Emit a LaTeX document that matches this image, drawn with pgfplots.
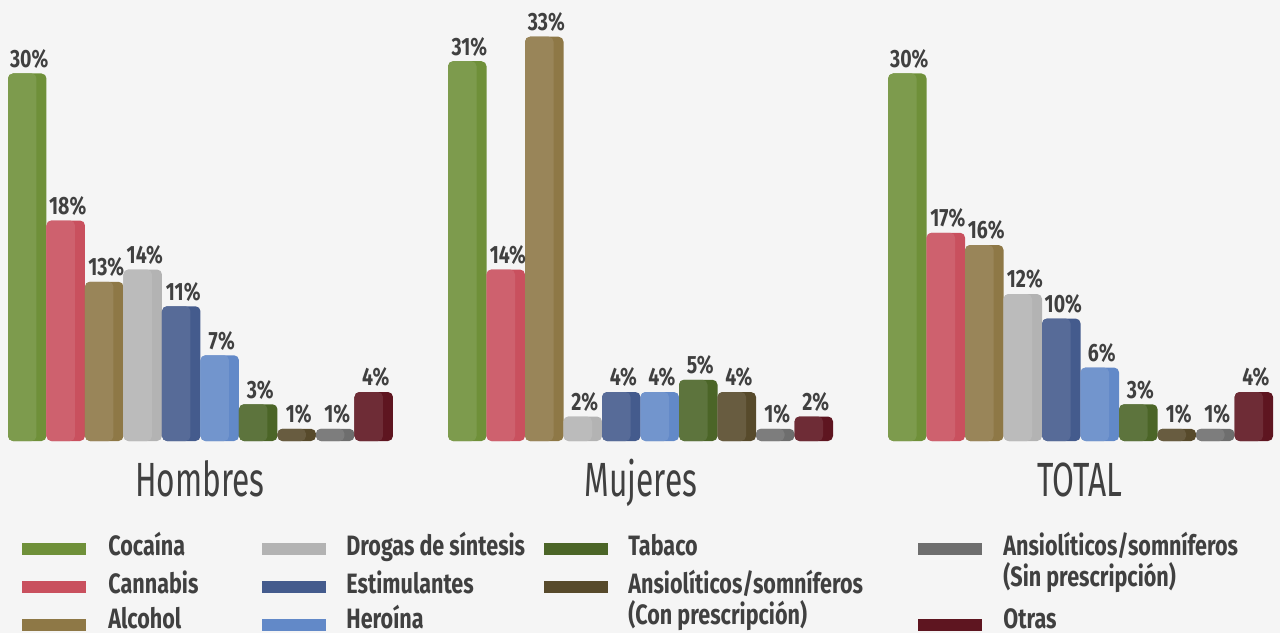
\documentclass[border=0pt]{standalone}
\usepackage{pgfplots}
\pgfplotsset{compat=1.18}
\usepackage{fontspec}
\setmainfont{Fira Sans}
\newfontfamily\vfont{Fira Sans}[FakeStretch=0.78]
\newfontfamily\tfont{Fira Sans}[FakeStretch=0.66]
\newfontfamily\lfont{Fira Sans}[FakeStretch=0.77]
\definecolor{bg}{HTML}{F5F5F5}
\definecolor{txt}{HTML}{404040}
\definecolor{c0}{HTML}{6F9039}
\definecolor{c1}{HTML}{C9505E}
\definecolor{c2}{HTML}{8E7846}
\definecolor{c3}{HTML}{B3B3B3}
\definecolor{c4}{HTML}{445B8D}
\definecolor{c5}{HTML}{6289C8}
\definecolor{c6}{HTML}{4B6527}
\definecolor{c7}{HTML}{574A2B}
\definecolor{c8}{HTML}{6E6E6E}
\definecolor{c9}{HTML}{5E1520}
\begin{document}
\begin{tikzpicture}
\fill[bg] (0,0) rectangle (640pt,316.5pt);
\useasboundingbox (0,0) rectangle (640pt,316.5pt);
\begin{axis}[
  at={(0,0)}, anchor=south west,
  scale only axis, width=640pt, height=316.5pt,
  xmin=-0.2078, xmax=33.04, ymin=-15.67, ymax=36,
  hide axis, clip=false,
  /pgf/number format/assume math mode=true,
  every axis plot/.append style={draw=none},
  main/.style={ybar, bar width=1, bar shift=0pt, rounded corners=2.5pt,
    nodes near coords={\pgfmathprintnumber{\pgfplotspointmeta}\%},
    point meta=y,
    every node near coord/.append style={font=\vfont\bfseries\fontsize{12.5}{14}\selectfont, text=txt, anchor=south, yshift=-1pt, xshift=1pt}},
  hl/.style={ybar, bar width=0.74, bar shift=-0.13, rounded corners=2.5pt},
]
\addplot[main, fill=c0] coordinates {(0.5,30) (11.93,31) (23.36,30)};
\addplot[hl, fill=c0!90!white] coordinates {(0.5,30) (11.93,31) (23.36,30)};
\addplot[main, fill=c1] coordinates {(1.5,18) (12.93,14) (24.36,17)};
\addplot[hl, fill=c1!90!white] coordinates {(1.5,18) (12.93,14) (24.36,17)};
\addplot[main, fill=c2] coordinates {(2.5,13) (13.93,33) (25.36,16)};
\addplot[hl, fill=c2!90!white] coordinates {(2.5,13) (13.93,33) (25.36,16)};
\addplot[main, fill=c3] coordinates {(3.5,14) (14.93,2) (26.36,12)};
\addplot[hl, fill=c3!90!white] coordinates {(3.5,14) (14.93,2) (26.36,12)};
\addplot[main, fill=c4] coordinates {(4.5,11) (15.93,4) (27.36,10)};
\addplot[hl, fill=c4!90!white] coordinates {(4.5,11) (15.93,4) (27.36,10)};
\addplot[main, fill=c5] coordinates {(5.5,7) (16.93,4) (28.36,6)};
\addplot[hl, fill=c5!90!white] coordinates {(5.5,7) (16.93,4) (28.36,6)};
\addplot[main, fill=c6] coordinates {(6.5,3) (17.93,5) (29.36,3)};
\addplot[hl, fill=c6!90!white] coordinates {(6.5,3) (17.93,5) (29.36,3)};
\addplot[main, fill=c7] coordinates {(7.5,1) (18.93,4) (30.36,1)};
\addplot[hl, fill=c7!90!white] coordinates {(7.5,1) (18.93,4) (30.36,1)};
\addplot[main, fill=c8] coordinates {(8.5,1) (19.93,1) (31.36,1)};
\addplot[hl, fill=c8!90!white] coordinates {(8.5,1) (19.93,1) (31.36,1)};
\addplot[main, fill=c9] coordinates {(9.5,4) (20.93,2) (32.36,4)};
\addplot[hl, fill=c9!90!white] coordinates {(9.5,4) (20.93,2) (32.36,4)};
\end{axis}
% group titles
\begin{scope}[every node/.style={anchor=base, text=txt, font=\tfont\fontsize{24}{28}\selectfont, inner sep=0pt}]
\node at (100pt,68.5pt) {Hombres};
\node at (320.5pt,68.5pt) {Mujeres};
\node at (540pt,68.5pt) {TOTAL};
\end{scope}
% legend
\begin{scope}[every node/.style={anchor=base west, text=txt, font=\lfont\bfseries\fontsize{14}{15.5}\selectfont, inner sep=0pt}]
\fill[c0] (11pt,39pt) rectangle (43pt,45pt);
\fill[c1] (11pt,20pt) rectangle (43pt,26pt);
\fill[c2] (11pt,1pt) rectangle (43pt,7pt);
\node at (54pt,39pt) {Cocaína};
\node at (54pt,20pt) {Cannabis};
\node at (54pt,2.5pt) {Alcohol};
\fill[c3] (131pt,39pt) rectangle (163pt,45pt);
\fill[c4] (131pt,20pt) rectangle (163pt,26pt);
\fill[c5] (131pt,1pt) rectangle (163pt,7pt);
\node at (173pt,39pt) {Drogas de síntesis};
\node at (173pt,20pt) {Estimulantes};
\node at (173pt,2.5pt) {Heroína};
\fill[c6] (272pt,39pt) rectangle (304pt,45pt);
\fill[c7] (272pt,20pt) rectangle (304pt,26pt);
\node at (314pt,39pt) {Tabaco};
\node at (314pt,20pt) {Ansiolíticos/somníferos};
\node at (314pt,4.5pt) {(Con prescripción)};
\fill[c8] (459pt,39pt) rectangle (491pt,45pt);
\fill[c9] (459pt,1pt) rectangle (491pt,7pt);
\node at (501.5pt,39pt) {Ansiolíticos/somníferos};
\node at (501.5pt,23.5pt) {(Sin prescripción)};
\node at (501.5pt,2.5pt) {Otras};
\end{scope}
\end{tikzpicture}
\end{document}
